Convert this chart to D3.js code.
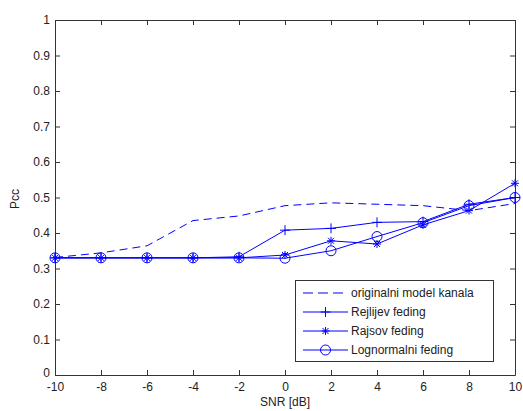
<!DOCTYPE html>
<html>
<head>
<meta charset="utf-8">
<script src="https://cdn.jsdelivr.net/npm/d3@7"></script>
<style>
  body { margin: 0; background: #fff; }
  text { font-family: Arial, "Liberation Sans", sans-serif; }
</style>
</head>
<body>
<div id="chart"></div>
<script>
const snr = [-10, -8, -6, -4, -2, 0, 2, 4, 6, 8, 10];
const original = [0.331, 0.344, 0.364, 0.435, 0.448, 0.477, 0.485, 0.481, 0.477, 0.463, 0.483];
const rejlijev = [0.33, 0.33, 0.33, 0.33, 0.333, 0.408, 0.413, 0.43, 0.432, 0.481, 0.5];
const rajsov = [0.33, 0.33, 0.33, 0.33, 0.33, 0.338, 0.378, 0.369, 0.423, 0.463, 0.54];
const lognormalni = [0.33, 0.33, 0.33, 0.33, 0.33, 0.329, 0.35, 0.39, 0.429, 0.477, 0.5];
const xTicks = [-10, -8, -6, -4, -2, 0, 2, 4, 6, 8, 10];
const yTicks = [0, 0.1, 0.2, 0.3, 0.4, 0.5, 0.6, 0.7, 0.8, 0.9, 1];

const series = [
  { name: "originalni model kanala", values: original, dash: "8,5", marker: null },
  { name: "Rejlijev feding", values: rejlijev, dash: null, marker: "plus" },
  { name: "Rajsov feding", values: rajsov, dash: null, marker: "star" },
  { name: "Lognormalni feding", values: lognormalni, dash: null, marker: "circle" }
];

const width = 523, height = 411;
const plotLeft = 55, plotRight = 515, plotTop = 20, plotBottom = 375;
const color = "#0000ff";

const svg = d3.select("#chart").append("svg")
  .attr("width", width)
  .attr("height", height);

const x = d3.scaleLinear().domain([-10, 10]).range([plotLeft, plotRight]);
const y = d3.scaleLinear().domain([0, 1]).range([plotBottom, plotTop]);

// axes box with ticks inside, matlab style
const fmt = d => String(+d.toFixed(1));
svg.append("g")
  .attr("transform", `translate(0,${plotBottom})`)
  .call(d3.axisBottom(x).tickValues(xTicks).tickSizeInner(-5).tickSizeOuter(0).tickPadding(7).tickFormat(fmt));
svg.append("g")
  .attr("transform", `translate(0,${plotTop})`)
  .call(d3.axisTop(x).tickValues(xTicks).tickSizeInner(-5).tickSizeOuter(0).tickFormat(""));
const yAxisG = svg.append("g")
  .attr("transform", `translate(${plotLeft},0)`)
  .call(d3.axisLeft(y).tickValues(yTicks).tickSizeInner(-5).tickSizeOuter(0).tickPadding(5).tickFormat(fmt));
svg.append("g")
  .attr("transform", `translate(${plotRight},0)`)
  .call(d3.axisRight(y).tickValues(yTicks).tickSizeInner(-5).tickSizeOuter(0).tickFormat(""));

svg.selectAll(".domain").attr("stroke", "#333");
svg.selectAll(".tick line").attr("stroke", "#333");
svg.selectAll(".tick text").attr("font-size", 12).attr("fill", "#222")
  .attr("font-family", "Arial, 'Liberation Sans', sans-serif");
// lift the "0" label a bit so it does not touch "-10"
yAxisG.selectAll(".tick text").filter(d => d === 0).attr("dy", "0.1em");

svg.append("text")
  .attr("x", (plotLeft + plotRight) / 2)
  .attr("y", 406)
  .attr("text-anchor", "middle")
  .attr("font-size", 12)
  .attr("fill", "#222")
  .text("SNR [dB]");

svg.append("text")
  .attr("transform", "translate(19,199) rotate(-90)")
  .attr("text-anchor", "middle")
  .attr("font-size", 12)
  .attr("fill", "#222")
  .text("Pcc");

const line = d3.line()
  .x((d, i) => x(snr[i]))
  .y(d => y(d));

function drawMarker(g, type, cx, cy) {
  if (type === "plus") {
    g.append("path").attr("d", `M${cx - 5},${cy}H${cx + 5}M${cx},${cy - 5}V${cy + 5}`)
      .attr("stroke", color).attr("fill", "none");
  } else if (type === "star") {
    g.append("path").attr("d", `M${cx - 4},${cy}H${cx + 4}M${cx},${cy - 4}V${cy + 4}M${cx - 3},${cy - 3}L${cx + 3},${cy + 3}M${cx - 3},${cy + 3}L${cx + 3},${cy - 3}`)
      .attr("stroke", color).attr("fill", "none");
  } else if (type === "circle") {
    g.append("circle").attr("cx", cx).attr("cy", cy).attr("r", 5)
      .attr("stroke", color).attr("fill", "none");
  }
}

series.forEach(s => {
  const g = svg.append("g");
  g.append("path")
    .datum(s.values)
    .attr("d", line)
    .attr("fill", "none")
    .attr("stroke", color)
    .attr("stroke-width", 1)
    .attr("stroke-dasharray", s.dash);
  if (s.marker) {
    s.values.forEach((v, i) => drawMarker(g, s.marker, x(snr[i]), y(v)));
  }
});

// legend
const lg = svg.append("g");
lg.append("rect")
  .attr("x", 295.5).attr("y", 280.5)
  .attr("width", 198).attr("height", 81)
  .attr("fill", "#fff").attr("stroke", "#333");
series.forEach((s, i) => {
  const ly = 293 + i * 19;
  lg.append("line")
    .attr("x1", 303).attr("x2", 348)
    .attr("y1", ly).attr("y2", ly)
    .attr("stroke", color)
    .attr("stroke-dasharray", s.dash ? "10,5" : null);
  if (s.marker) drawMarker(lg, s.marker, 325.5, ly);
  lg.append("text")
    .attr("x", 351).attr("y", ly + 4)
    .attr("font-size", 12)
    .attr("fill", "#222")
    .text(s.name);
});
</script>
</body>
</html>
